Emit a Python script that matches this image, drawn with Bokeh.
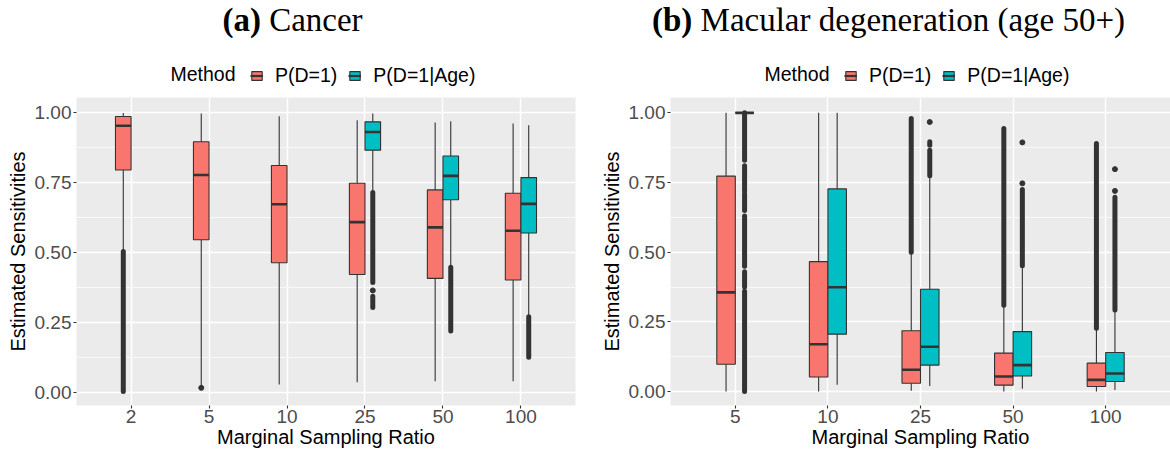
from bokeh.plotting import figure
from bokeh.models import (FactorRange, Range1d, Legend, LegendItem, Div, Label,
                          ColumnDataSource, FixedTicker, NumeralTickFormatter)
from bokeh.transform import dodge
from bokeh.layouts import row, column
from bokeh.embed import file_html
from bokeh.resources import INLINE

RED = "#F8766D"
TEAL = "#00BFC4"
DARK = "#333333"
METHODS = ["P(D=1)", "P(D=1|Age)"]
LEGEND_TITLE = "Method"

# ---------------- Panel (a): Cancer ----------------
a_cats = ["2", "5", "10", "25", "50", "100"]
a_red_cats = ["2", "5", "10", "25", "50", "100"]
a_red_lower = [0.509, 0.025, 0.030, 0.038, 0.042, 0.042]
a_red_q1 = [0.796, 0.547, 0.465, 0.423, 0.409, 0.403]
a_red_med = [0.954, 0.778, 0.674, 0.610, 0.591, 0.579]
a_red_q3 = [0.987, 0.897, 0.812, 0.749, 0.725, 0.713]
a_red_upper = [1.000, 0.998, 0.988, 0.974, 0.966, 0.962]

a_teal_cats = ["25", "50", "100"]
a_teal_lower = [0.719, 0.453, 0.275]
a_teal_q1 = [0.867, 0.690, 0.571]
a_teal_med = [0.932, 0.775, 0.675]
a_teal_q3 = [0.968, 0.846, 0.769]
a_teal_upper = [0.998, 0.970, 0.956]

# dense stacks of outlying points (lowest, highest value of each stack)
a_run_cats = ["2", "25", "25", "50", "100"]
a_run_methods = ["P(D=1)", "P(D=1|Age)", "P(D=1|Age)", "P(D=1|Age)", "P(D=1|Age)"]
a_run_lo = [0.005, 0.394, 0.305, 0.221, 0.127]
a_run_hi = [0.505, 0.716, 0.345, 0.449, 0.272]
# single outlying points
a_pt_cats = ["5", "25"]
a_pt_methods = ["P(D=1)", "P(D=1|Age)"]
a_pt_vals = [0.018, 0.366]

# ---------------- Panel (b): Macular degeneration ----------------
b_cats = ["5", "10", "25", "50", "100"]
b_red_cats = ["5", "10", "25", "50", "100"]
b_red_lower = [0.000, 0.000, 0.003, 0.000, 0.000]
b_red_q1 = [0.098, 0.052, 0.030, 0.023, 0.018]
b_red_med = [0.356, 0.170, 0.078, 0.054, 0.042]
b_red_q3 = [0.773, 0.466, 0.218, 0.138, 0.102]
b_red_upper = [1.000, 1.000, 0.496, 0.307, 0.224]

b_teal_cats = ["5", "10", "25", "50", "100"]
b_teal_lower = [1.000, 0.024, 0.020, 0.010, 0.006]
b_teal_q1 = [1.000, 0.206, 0.095, 0.056, 0.036]
b_teal_med = [1.000, 0.374, 0.161, 0.095, 0.065]
b_teal_q3 = [1.000, 0.727, 0.367, 0.215, 0.140]
b_teal_upper = [1.000, 1.000, 0.771, 0.448, 0.290]

b_run_cats = ["5", "5", "5", "5", "5", "5", "25", "25", "25", "50", "50", "100", "100"]
b_run_methods = ["P(D=1|Age)"] * 6 + ["P(D=1)", "P(D=1|Age)", "P(D=1|Age)",
                                      "P(D=1)", "P(D=1|Age)", "P(D=1)", "P(D=1|Age)"]
b_run_lo = [0.83, 0.72, 0.65, 0.45, 0.375, 0.000, 0.500, 0.774, 0.884, 0.310, 0.451, 0.227, 0.293]
b_run_hi = [1.00, 0.81, 0.71, 0.63, 0.430, 0.360, 0.980, 0.866, 0.896, 0.944, 0.725, 0.890, 0.697]
b_pt_cats = ["25", "50", "50", "100", "100"]
b_pt_methods = ["P(D=1|Age)"] * 5
b_pt_vals = [0.967, 0.747, 0.894, 0.720, 0.798]

y_ticks = [0.0, 0.25, 0.5, 0.75, 1.0]
y_minor = [0.125, 0.375, 0.625, 0.875]

W = 585
TITLE_H = 45
LEG_H = 52
MAIN_H = 453 - TITLE_H - LEG_H


def make_panel(cats, red, teal, runs, pts, y0, y1, bl, br):
    p = figure(width=W, height=MAIN_H,
               x_range=FactorRange(factors=cats, range_padding=0.2, range_padding_units="absolute"),
               y_range=Range1d(y0, y1),
               output_backend="svg", toolbar_location=None,
               min_border_left=bl, min_border_right=br, min_border_top=0,
               min_border_bottom=48)
    p.background_fill_color = "#EBEBEB"
    p.border_fill_color = "white"
    p.outline_line_color = None

    for method, data, color, off in [(METHODS[0], red, RED, -0.1), (METHODS[1], teal, TEAL, 0.1)]:
        src = ColumnDataSource(dict(cat=data[0], lower=data[1], q1=data[2], med=data[3],
                                    q3=data[4], upper=data[5]))
        xc = dodge("cat", off, range=p.x_range)
        p.segment(x0=xc, y0="q3", x1=xc, y1="upper", source=src, line_color=DARK, line_width=1.1)
        p.segment(x0=xc, y0="lower", x1=xc, y1="q1", source=src, line_color=DARK, line_width=1.1)
        p.vbar(x=xc, width=0.2, bottom="q1", top="q3", source=src,
               fill_color=color, line_color=DARK, line_width=1.1)
        p.segment(x0=dodge("cat", off - 0.1, range=p.x_range), y0="med",
                  x1=dodge("cat", off + 0.1, range=p.x_range), y1="med",
                  source=src, line_color=DARK, line_width=2.6)

        rc, rm, rlo, rhi = runs
        sel = [i for i in range(len(rc)) if rm[i] == method]
        rsrc = ColumnDataSource(dict(cat=[rc[i] for i in sel], lo=[rlo[i] for i in sel],
                                     hi=[rhi[i] for i in sel]))
        p.segment(x0=xc, y0="lo", x1=xc, y1="hi", source=rsrc, line_color=DARK,
                  line_width=5, line_cap="round")
        pc, pm, pv = pts
        sel = [i for i in range(len(pc)) if pm[i] == method]
        psrc = ColumnDataSource(dict(cat=[pc[i] for i in sel], v=[pv[i] for i in sel]))
        p.scatter(x=xc, y="v", source=psrc, size=5, fill_color=DARK, line_color=DARK)

    # axes
    p.yaxis.ticker = FixedTicker(ticks=y_ticks, minor_ticks=y_minor)
    p.yaxis.formatter = NumeralTickFormatter(format="0.00")
    for ax in (p.xaxis[0], p.yaxis[0]):
        ax.axis_line_color = None
        ax.major_tick_line_color = DARK
        ax.major_tick_line_width = 1.1
        ax.major_tick_out = 3
        ax.major_tick_in = 0
        ax.minor_tick_line_color = None
        ax.major_label_text_font = "Liberation Sans"
        ax.major_label_text_font_size = "19px"
        ax.major_label_text_color = "#4D4D4D"
        ax.major_label_standoff = 1
        ax.axis_label_text_font = "Liberation Sans"
        ax.axis_label_text_font_size = "20px"
        ax.axis_label_text_font_style = "normal"
        ax.axis_label_text_color = "black"
        ax.axis_label_standoff = 3
    p.xaxis.axis_label = "Marginal Sampling Ratio"
    p.xaxis.axis_label_standoff = 0
    p.yaxis.axis_label = "Estimated Sensitivities"

    # grid
    p.xgrid.grid_line_color = "white"
    p.xgrid.grid_line_width = 1.4
    p.ygrid.grid_line_color = "white"
    p.ygrid.grid_line_width = 1.4
    p.ygrid.minor_grid_line_color = "white"
    p.ygrid.minor_grid_line_width = 0.7
    return p


def make_legend(bl, br):
    """Strip above each panel holding the 'Method' key (offsets in pixels from the panel's left edge)."""
    lf = figure(width=W, height=LEG_H, x_range=Range1d(0, 1), y_range=Range1d(0, 1),
                output_backend="svg", toolbar_location=None,
                min_border_left=bl, min_border_right=br, min_border_top=0, min_border_bottom=0)
    lf.axis.visible = False
    lf.grid.visible = False
    lf.outline_line_color = None
    lf.background_fill_color = "white"
    lf.border_fill_color = "white"
    items = []
    for method, color in zip(METHODS, [RED, TEAL]):
        s = ColumnDataSource(dict(x=[-100.0], b=[-100.0], t=[-90.0]))
        key_box = lf.vbar(x="x", width=1, bottom="b", top="t", source=s,
                          fill_color=color, line_color=DARK, line_width=1.1)
        key_med = lf.segment(x0="x", y0="b", x1="x", y1="t", source=s,
                             line_color=DARK, line_width=2.2)
        items.append(LegendItem(label=method, renderers=[key_box, key_med]))
    leg = Legend(items=items, orientation="horizontal", location=(174, 10),
                 padding=0, margin=0, spacing=11, label_standoff=12,
                 glyph_width=13, glyph_height=11,
                 label_text_font="Liberation Sans", label_text_font_size="19.5px",
                 label_text_color="black",
                 border_line_color=None, background_fill_alpha=0)
    lf.add_layout(leg, "center")
    lf.add_layout(Label(x=94, y=24, x_units="screen", y_units="screen", text=LEGEND_TITLE,
                        text_align="left", text_baseline="alphabetic",
                        text_font="Liberation Sans", text_font_size="19.5px",
                        text_color="black"))
    return lf


def make_title(tag, rest, pad_left):
    return Div(text="<b>%s</b> %s" % (tag, rest), width=W, height=TITLE_H, margin=0,
               styles={"font-family": "Liberation Serif", "font-size": "33px",
                       "line-height": "40px", "text-align": "center", "color": "black",
                       "padding-left": "%dpx" % pad_left, "box-sizing": "border-box",
                       "white-space": "nowrap"})


p1 = make_panel(a_cats,
                (a_red_cats, a_red_lower, a_red_q1, a_red_med, a_red_q3, a_red_upper),
                (a_teal_cats, a_teal_lower, a_teal_q1, a_teal_med, a_teal_q3, a_teal_upper),
                (a_run_cats, a_run_methods, a_run_lo, a_run_hi),
                (a_pt_cats, a_pt_methods, a_pt_vals),
                -0.045, 1.055, 76, 10)
p2 = make_panel(b_cats,
                (b_red_cats, b_red_lower, b_red_q1, b_red_med, b_red_q3, b_red_upper),
                (b_teal_cats, b_teal_lower, b_teal_q1, b_teal_med, b_teal_q3, b_teal_upper),
                (b_run_cats, b_run_methods, b_run_lo, b_run_hi),
                (b_pt_cats, b_pt_methods, b_pt_vals),
                -0.05, 1.055, 85, 0)

t1 = make_title("(a)", "Cancer", 0)
t2 = make_title("(b)", "Macular degeneration (age 50+)", 22)
l1 = make_legend(76, 10)
l2 = make_legend(85, 0)

layout = row(column(t1, l1, p1), column(t2, l2, p2))
open("out.html", "w").write(file_html(layout, INLINE))
